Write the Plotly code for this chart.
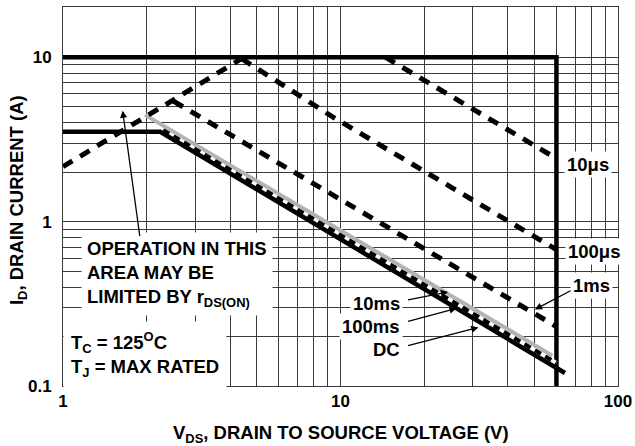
import numpy as np
import plotly.graph_objects as go

# ---- data ----
limit_v = [1, 60, 60]
limit_i = [10, 10, 0.1]

rds_v = [1, 4.4]
rds_i = [2.16, 9.8]

us10_v = [14.5, 60]
us10_i = [10, 2.42]

us100_v = [4.4, 9.4, 60]
us100_i = [9.8, 4.32, 0.675]

ms1_v = [2.5, 60]
ms1_i = [5.4, 0.23]

ms10_v = [1.975, 58]
ms10_i = [4.46, 0.153]

ms100_v = [2.3, 60]
ms100_i = [3.62, 0.138]

dc_v = [1, 2.24, 64.4]
dc_i = [3.52, 3.52, 0.12]

x_major = [1, 10, 100]
y_major = [0.1, 1, 10]

FONT = "Liberation Sans, Arial, sans-serif"

fig = go.Figure()

def add(v, i, color, width, dash="solid"):
    fig.add_trace(go.Scatter(x=v, y=i, mode="lines",
                             line=dict(color=color, width=width, dash=dash),
                             hoverinfo="skip", showlegend=False))

add(limit_v, limit_i, "black", 4.5)
add(ms100_v, ms100_i, "white", 4)
add(dc_v, dc_i, "black", 4.5)
add(ms100_v, ms100_i, "black", 4, "7px,5px")
add(ms10_v, ms10_i, "#b3b3b3", 4)
add(ms1_v, ms1_i, "black", 5, "11px,9px")
add(us100_v, us100_i, "black", 5, "11px,9px")
add(rds_v, rds_i, "black", 5, "11px,9px")
add(us10_v, us10_i, "black", 5, "11px,9px")

# grid ticks
xt = [m * d for d in [1, 10] for m in range(1, 10)] + [100]
xtext = [str(v) if v in x_major else "" for v in xt]
yt = [round(m * d, 3) for d in [0.1, 1] for m in range(1, 10)] + [10]
ytext = [("0.1" if v == 0.1 else str(int(v))) if v in y_major else "" for v in yt]

tick_font = dict(family=FONT, size=17, color="black", weight="bold")
fig.update_xaxes(type="log", range=[0, 2], tickvals=xt, ticktext=xtext,
                 showgrid=True, gridcolor="#3a3a3a", gridwidth=1,
                 showline=True, linecolor="#3a3a3a", linewidth=1, mirror=True,
                 zeroline=False, ticks="", automargin=False, tickfont=tick_font)
fig.update_yaxes(type="log", range=[-1, np.log10(20.2)], tickvals=yt, ticktext=ytext,
                 showgrid=True, gridcolor="#3a3a3a", gridwidth=1,
                 showline=True, linecolor="#3a3a3a", linewidth=1, mirror=True,
                 zeroline=False, ticks="", ticklabelstandoff=7, automargin=False,
                 tickfont=tick_font)

title_font = dict(family=FONT, size=18.5, color="black", weight="bold")
fig.add_annotation(text="V<sub>DS</sub>, DRAIN TO SOURCE VOLTAGE (V)",
                   xref="paper", yref="paper", x=0.5, y=-0.127,
                   xanchor="center", yanchor="middle", showarrow=False, font=title_font)
fig.add_annotation(text="I<sub>D</sub>, DRAIN CURRENT (A)",
                   xref="paper", yref="paper", x=-0.082, y=0.492, textangle=-90,
                   xanchor="center", yanchor="middle", showarrow=False, font=title_font)

ann_font = dict(family=FONT, size=18.5, color="black", weight="bold")
L = np.log10

def label(text, xv, yv, xanchor="center", align="center", pad=2):
    fig.add_annotation(x=xv, y=yv, xref="x", yref="y", text=text, showarrow=False,
                       xanchor=xanchor, yanchor="middle", align=align,
                       bgcolor="white", borderpad=pad, font=ann_font)

def arrow(head_v, head_i, tail_v, tail_i):
    fig.add_annotation(x=L(head_v), y=L(head_i), ax=L(tail_v), ay=L(tail_i),
                       xref="x", yref="y", axref="x", ayref="y", text="",
                       showarrow=True, arrowhead=2, arrowsize=1.1, arrowwidth=1.3,
                       arrowcolor="black", standoff=0, startstandoff=0)

label("10μs", 1.892, 0.3445)
label("100μs", 1.9135, -0.179)
label("1ms", 1.9045, -0.386)
label("10ms", 1.224, -0.4954, xanchor="right")
label("100ms", 1.224, -0.6385, xanchor="right")
label("DC", 1.224, -0.7754, xanchor="right")

label("OPERATION IN THIS<br>AREA MAY BE<br>LIMITED BY r<sub>DS(ON)</sub>",
      0.065, -0.316, xanchor="left", align="left", pad=5)
label("T<sub>C</sub> = 125<sup>O</sup>C<br>T<sub>J</sub> = MAX RATED",
      0.0, -0.81, xanchor="left", align="left", pad=7)

arrow(1.64, 4.73, 1.894, 0.80)
arrow(50.2, 0.292, 68.3, 0.384)
arrow(24.4, 0.373, 17.3, 0.333)
arrow(26.2, 0.297, 17.3, 0.246)
arrow(31.4, 0.227, 17.3, 0.175)

fig.update_layout(width=635, height=446,
                  margin=dict(l=63, r=17, t=7, b=60),
                  paper_bgcolor="white", plot_bgcolor="white",
                  showlegend=False)

fig.write_html("out.html",
               config={"displayModeBar": False, "staticPlot": True},
               post_script="document.body.style.margin='0px';"
                           "document.body.style.overflow='hidden';")
